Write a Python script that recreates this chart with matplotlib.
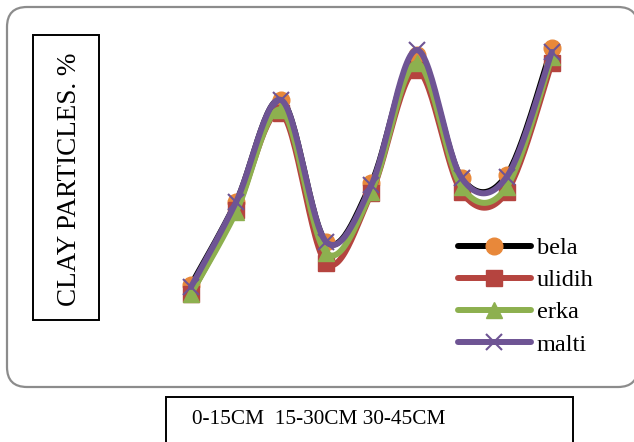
import numpy as np
import matplotlib
matplotlib.use("Agg")
import matplotlib.pyplot as plt
from matplotlib.patches import FancyBboxPatch, Rectangle
from matplotlib.lines import Line2D

plt.rcParams['font.family'] = ['Liberation Serif', 'DejaVu Serif']

# ---- data ----
depth_labels = "0-15CM  15-30CM 30-45CM"
ylabel = "CLAY PARTICLES. %"
points = [1, 2, 3, 4, 5, 6, 7, 8, 9]
bela = [6.5, 14.8, 25.0, 10.8, 16.7, 29.5, 17.2, 17.5, 30.2]
ulidih = [5.6, 14.0, 23.7, 8.7, 15.7, 28.0, 15.8, 15.8, 28.7]
erka = [5.6, 13.8, 24.0, 9.7, 15.8, 28.7, 16.3, 16.3, 29.3]
malti = [6.3, 14.8, 25.0, 10.8, 16.5, 30.0, 17.2, 17.3, 29.8]
series_names = ["bela", "ulidih", "erka", "malti"]

W, H = 634, 442
fig = plt.figure(figsize=(W / 100, H / 100), dpi=100)


def smooth(x, y, n=30):
    x = np.asarray(x, float)
    y = np.asarray(y, float)
    P = np.column_stack([x, y])
    out = []
    m = len(P)
    for i in range(m - 1):
        p0 = P[i - 1] if i > 0 else P[i]
        p1 = P[i]
        p2 = P[i + 1]
        p3 = P[i + 2] if i + 2 < m else P[i + 1]
        c1 = p1 + (p2 - p0) / 6.0
        c2 = p2 - (p3 - p1) / 6.0
        t = np.linspace(0, 1, n)[:, None]
        seg = ((1 - t) ** 3) * p1 + 3 * ((1 - t) ** 2) * t * c1 + 3 * (1 - t) * t ** 2 * c2 + t ** 3 * p2
        if i > 0:
            seg = seg[1:]
        out.append(seg)
    out = np.vstack(out)
    return out[:, 0], out[:, 1]


# outer rounded border (pixel coordinates)
outer = FancyBboxPatch((7, H - 387), 631, 380,
                       boxstyle="round,pad=0,rounding_size=20",
                       transform=None, facecolor="white", edgecolor="#8c8c8c",
                       linewidth=1.6, zorder=0)
fig.add_artist(outer)

# y label box
lab_box = Rectangle((33, H - 320), 66, 285, transform=None, facecolor="white",
                    edgecolor="black", linewidth=1.4, zorder=1)
fig.add_artist(lab_box)
fig.text(70 / W, 1 - 179 / H, ylabel, rotation=90, ha="center", va="center",
         fontsize=19.5, color="black")

# bottom box
bot_box = Rectangle((166, -10), 407, H - 397 + 10, transform=None, facecolor="white",
                    edgecolor="black", linewidth=1.4, zorder=1)
fig.add_artist(bot_box)
fig.text(192 / W, 1 - 419 / H, depth_labels, ha="left", va="center",
         fontsize=15.3, color="black")

# plot axes: x=1 at px 191, spacing 45.1 ; y: px = 350 - 10*v
x0 = 191 - 0.5 * 45.1
x1 = x0 + 9 * 45.1
ax = fig.add_axes([x0 / W, 1 - 350 / H, (x1 - x0) / W, 350 / H])
ax.set_xlim(0.5, 9.5)
ax.set_ylim(0, 35)
ax.axis("off")
ax.patch.set_alpha(0)

styles = [
    dict(data=bela, line="black", mk="o", mfc="#E8883A", mec="#E8883A", ms=12, mew=1),
    dict(data=ulidih, line="#B5443F", mk="s", mfc="#B5443F", mec="#B5443F", ms=11, mew=1),
    dict(data=erka, line="#8DB04F", mk="^", mfc="#8DB04F", mec="#8DB04F", ms=12, mew=1),
    dict(data=malti, line="#6E5494", mk="x", mfc="#6E5494", mec="#6E5494", ms=11, mew=1.5),
]

handles = []
for k, (name, st) in enumerate(zip(series_names, styles)):
    sx, sy = smooth(points, st["data"])
    ax.plot(sx, sy, color=st["line"], lw=4.3, solid_capstyle="round",
            clip_on=False, zorder=2 + 2 * k)
    ax.plot(points, st["data"], linestyle="none", marker=st["mk"], ms=st["ms"],
            mfc=st["mfc"], mec=st["mec"], mew=st["mew"], clip_on=False, zorder=2 + 2 * k + 1)
    handles.append(Line2D([], [], color=st["line"], lw=4.3, solid_capstyle="round",
                          marker=st["mk"], ms=st["ms"], mfc=st["mfc"], mec=st["mec"],
                          mew=st["mew"]))

leg = fig.legend(handles, series_names, loc="upper left",
                 bbox_to_anchor=(458 / W, 1 - 237 / H), bbox_transform=fig.transFigure,
                 frameon=False, fontsize=17.5, handlelength=3.0, handletextpad=0.25,
                 labelspacing=0.42, numpoints=1, borderpad=0, borderaxespad=0)

fig.savefig("out.png", dpi=100)
